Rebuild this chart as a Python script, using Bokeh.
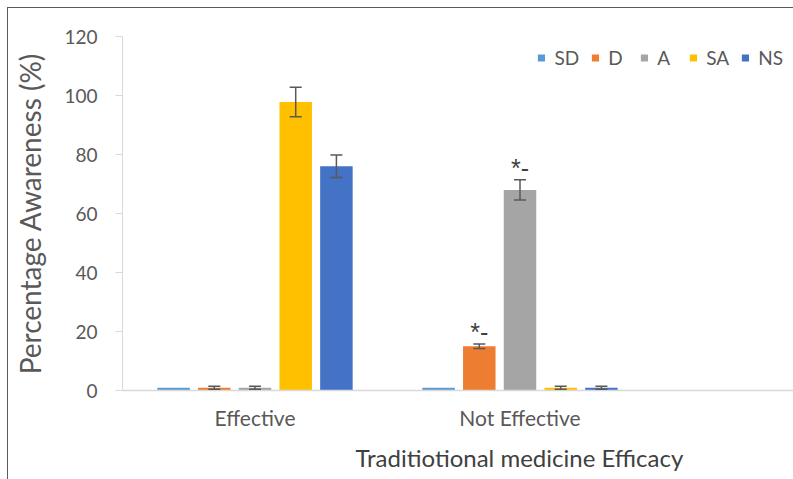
from bokeh.plotting import figure
from bokeh.models import (ColumnDataSource, Range1d, FixedTicker, Whisker, TeeHead,
                          Title, Legend, LegendItem, LinearAxis)
from bokeh.core.properties import value
from bokeh.embed import file_html
from bokeh.resources import INLINE

# ---- data ----
categories = ["Effective", "Not Effective"]
series = ["SD", "D", "A", "SA", "NS"]
colors = ["#5B9BD5", "#ED7D31", "#A5A5A5", "#FFC000", "#4472C4"]

sd_vals = [0.9, 0.9]
d_vals = [0.9, 15.0]
a_vals = [0.9, 68.0]
sa_vals = [97.8, 0.9]
ns_vals = [76.0, 0.9]

sd_err = [0.0, 0.0]
d_err = [0.5, 0.8]
a_err = [0.5, 3.4]
sa_err = [5.0, 0.5]
ns_err = [3.8, 0.5]

sd_mark = ["", ""]
d_mark = ["", "*-"]
a_mark = ["", "*-"]
sa_mark = ["", ""]
ns_mark = ["", ""]

y_ticks = [0, 20, 40, 60, 80, 100, 120]
y_title = "Percentage Awareness (%)"
x_title = "Traditiotional medicine Efficacy"

all_vals = [sd_vals, d_vals, a_vals, sa_vals, ns_vals]
all_errs = [sd_err, d_err, a_err, sa_err, ns_err]
all_marks = [sd_mark, d_mark, a_mark, sa_mark, ns_mark]

# ---- layout ----
FONT = "Lato"
TXT = "#595959"
W, H = 785, 471
LEFT, TOP, BOTTOM = 114, 28, 88
cat_px = 265.0
frame_w = W - LEFT
spacing = 0.1536
bar_w = 0.1226

p = figure(width=W, height=H, output_backend="svg", toolbar_location=None,
           x_range=Range1d(0, frame_w / cat_px), y_range=Range1d(0, 120),
           min_border_left=LEFT, min_border_right=0, min_border_top=TOP,
           min_border_bottom=BOTTOM)
p.styles = {"outline": "1px solid #5a5a5a", "margin-left": "8px", "margin-top": "8px"}
p.outline_line_color = None
p.xgrid.visible = False
p.ygrid.visible = False
p.background_fill_color = "white"
p.border_fill_color = "white"

legend_items = []
for k, (name, col, vals, errs, marks) in enumerate(zip(series, colors, all_vals, all_errs, all_marks)):
    xs = [i + 0.5 + (k - 2) * spacing for i in range(len(categories))]
    src = ColumnDataSource(dict(x=xs, top=vals))
    r = p.vbar(x="x", top="top", width=bar_w, source=src, fill_color=col,
               line_color=None)
    legend_items.append(LegendItem(label=name, renderers=[r]))
    wx = [x for x, e in zip(xs, errs) if e > 0]
    wu = [v + e for v, e in zip(vals, errs) if e > 0]
    wl = [v - e for v, e in zip(vals, errs) if e > 0]
    if wx:
        wsrc = ColumnDataSource(dict(x=wx, upper=wu, lower=wl))
        p.add_layout(Whisker(base="x", upper="upper", lower="lower", source=wsrc,
                             level="overlay",
                             line_color="#595959", line_width=1.5,
                             upper_head=TeeHead(size=12, line_color="#595959", line_width=1.5),
                             lower_head=TeeHead(size=12, line_color="#595959", line_width=1.5)))
    mx = [x for x, m in zip(xs, marks) if m]
    my = [v + e + 4 for v, e, m in zip(vals, errs, marks) if m]
    mt = [m for m in marks if m]
    if mx:
        p.text(x=mx, y=my, text=mt, text_font=value("Liberation Sans"), text_font_size="25px",
               text_color="#404040", text_align="center", text_baseline="alphabetic")

legend = Legend(items=legend_items, orientation="horizontal", location="top_right",
                glyph_width=9, glyph_height=9, label_text_font=FONT,
                label_text_font_size="19px", label_text_color=TXT,
                label_standoff=9, spacing=11, margin=10, padding=4,
                background_fill_alpha=0, border_line_color=None)
p.add_layout(legend)

# y axis
ya = p.yaxis[0]
ya.ticker = FixedTicker(ticks=y_ticks)
ya.minor_tick_line_color = None
ya.axis_line_color = "#d9d9d9"
ya.major_tick_line_color = "#d9d9d9"
ya.major_tick_in = 0
ya.major_tick_out = 7
ya.major_label_standoff = 18
ya.major_label_text_font = FONT
ya.major_label_text_font_size = "19px"
ya.major_label_text_color = TXT

# second, bare axis that only carries the title (bounded so the title sits low)
ta = LinearAxis(ticker=FixedTicker(ticks=[]), bounds=(0, 100),
                axis_line_color=None, major_tick_line_color=None,
                minor_tick_line_color=None,
                axis_label=y_title, axis_label_text_font=FONT,
                axis_label_text_font_size="28px", axis_label_text_font_style="normal",
                axis_label_text_color=TXT, axis_label_standoff=15)
p.add_layout(ta, "left")

# x axis
xa = p.xaxis[0]
xa.ticker = FixedTicker(ticks=[i + 0.5 for i in range(len(categories))])
xa.major_label_overrides = {i + 0.5: c for i, c in enumerate(categories)}
xa.minor_tick_line_color = None
xa.major_tick_line_color = None
xa.axis_line_color = "#d9d9d9"
xa.axis_line_width = 1.5
xa.major_label_standoff = 8
xa.major_label_text_font = FONT
xa.major_label_text_font_size = "21px"
xa.major_label_text_color = TXT

p.add_layout(Title(text=x_title, align="left", offset=233, text_font=FONT,
                   text_font_size="24px", text_font_style="normal",
                   vertical_align="bottom",
                   text_color="#404040", standoff=16), "below")

open("out.html", "w").write(file_html(p, INLINE))
